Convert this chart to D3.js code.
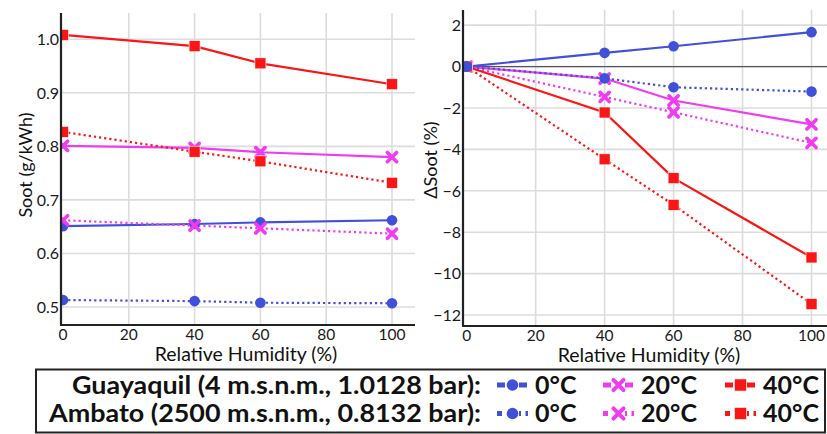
<!DOCTYPE html>
<html><head><meta charset="utf-8">
<script src="https://cdn.jsdelivr.net/npm/d3@7"></script>
<style>
body{margin:0;background:#fff;}
text{font-family:Lato,"Open Sans",sans-serif;}
</style></head>
<body><svg id="c" width="827" height="434"></svg>
<script>
// ---- data ----
const humidity = [0, 40, 60, 100];
const xTicks = [0, 20, 40, 60, 80, 100];
const sootTicks = [0.5, 0.6, 0.7, 0.8, 0.9, 1.0];
const deltaTicks = [2, 0, -2, -4, -6, -8, -10, -12];

const sootGuayaquil0 = [0.651, 0.655, 0.658, 0.662];
const sootGuayaquil20 = [0.801, 0.797, 0.789, 0.780];
const sootGuayaquil40 = [1.008, 0.987, 0.955, 0.916];
const sootAmbato0 = [0.513, 0.511, 0.508, 0.507];
const sootAmbato20 = [0.662, 0.652, 0.647, 0.637];
const sootAmbato40 = [0.827, 0.790, 0.772, 0.732];

const deltaGuayaquil0 = [0, 0.66, 0.98, 1.66];
const deltaGuayaquil20 = [0, -0.58, -1.64, -2.79];
const deltaGuayaquil40 = [0, -2.22, -5.39, -9.22];
const deltaAmbato0 = [0, -0.57, -1.00, -1.21];
const deltaAmbato20 = [0, -1.47, -2.21, -3.69];
const deltaAmbato40 = [0, -4.48, -6.68, -11.47];

const temps = ["0°C", "20°C", "40°C"];
const colors = ["#4050d8", "#f03cf0", "#fa1616"];
const shapes = ["circle", "cross", "square"];

const svg = d3.select("#c");

function marker(g, shape, color, x, y, k) {
  k = k || 1;
  if (shape === "circle") {
    g.append("circle").attr("cx", x).attr("cy", y).attr("r", 5.3 * k).attr("fill", color);
  } else if (shape === "square") {
    const h = 5.5 * k;
    g.append("rect").attr("x", x - h).attr("y", y - h).attr("width", 2 * h).attr("height", 2 * h)
      .attr("fill", color).attr("stroke", "#fff").attr("stroke-width", 0.6);
  } else {
    const s = 4.6 * k;
    g.append("path").attr("d", `M${x - s},${y - s}L${x + s},${y + s}M${x - s},${y + s}L${x + s},${y - s}`)
      .attr("stroke", color).attr("stroke-width", 3.6 * k).attr("stroke-linecap", "round").attr("fill", "none");
  }
}

function panel(opts) {
  const {x, y, left, right, top, bottom, ticks, fmt, series, id, title, zeroLine, titleX} = opts;
  const g = svg.append("g");
  g.selectAll(".vg").data(xTicks.filter(d => d > 0)).enter().append("line")
    .attr("x1", d => x(d)).attr("x2", d => x(d)).attr("y1", top).attr("y2", bottom)
    .attr("stroke", "#dcdcdc").attr("stroke-width", 1.6);
  g.selectAll(".hg").data(ticks).enter().append("line")
    .attr("x1", left).attr("x2", right).attr("y1", d => y(d)).attr("y2", d => y(d))
    .attr("stroke", "#dcdcdc").attr("stroke-width", 1.6);
  if (zeroLine) {
    g.append("line").attr("x1", left).attr("x2", right).attr("y1", y(0)).attr("y2", y(0))
      .attr("stroke", "#555").attr("stroke-width", 1.3);
  }
  svg.append("clipPath").attr("id", id).append("rect")
    .attr("x", left).attr("y", top - 10).attr("width", right - left).attr("height", bottom - top + 10);
  const m = g.append("g").attr("clip-path", `url(#${id})`);
  const line = d3.line().x((d, i) => x(humidity[i])).y(d => y(d));
  series.forEach(s => {
    m.append("path").datum(s.values).attr("d", line).attr("fill", "none")
      .attr("stroke", colors[s.t]).attr("stroke-width", 2.2)
      .attr("stroke-dasharray", s.dotted ? "2.2,3" : null);
  });
  series.forEach(s => {
    s.values.forEach((v, i) => marker(m, shapes[s.t], colors[s.t], x(humidity[i]), y(v)));
  });
  g.append("line").attr("x1", left).attr("x2", left).attr("y1", top).attr("y2", bottom)
    .attr("stroke", "#222").attr("stroke-width", 2.2);
  g.append("line").attr("x1", left - 1).attr("x2", right).attr("y1", bottom).attr("y2", bottom)
    .attr("stroke", "#222").attr("stroke-width", 2.2);
  g.selectAll(".yl").data(ticks).enter().append("text")
    .attr("x", left - 2).attr("y", d => y(d)).attr("dy", "0.36em").attr("text-anchor", "end")
    .attr("font-size", 16).attr("fill", "#1a1a1a").text(fmt);
  g.selectAll(".xl").data(xTicks).enter().append("text")
    .attr("x", d => x(d)).attr("y", bottom + 15).attr("text-anchor", "middle")
    .attr("font-size", 15.5).attr("fill", "#1a1a1a").text(d => d);
  g.append("text").attr("x", titleX).attr("y", bottom + 36).attr("text-anchor", "middle")
    .attr("font-size", 19.5).attr("fill", "#111").text("Relative Humidity (%)");
  g.append("text").attr("transform", `translate(${opts.yTitleX},${opts.yTitleY}) rotate(-90)`)
    .attr("text-anchor", "middle").attr("font-size", 18).attr("fill", "#111").text(title);
}

const x1 = d3.scaleLinear().domain([0, 100]).range([63, 392]);
const y1 = d3.scaleLinear().domain([0.4664, 1.049]).range([325, 13]);
panel({
  x: x1, y: y1, left: 61, right: 415, top: 13, bottom: 325, ticks: sootTicks,
  fmt: d => d.toFixed(1), id: "cl1", title: "Soot (g/kWh)", titleX: 246,
  yTitleX: 32, yTitleY: 165,
  series: [
    {values: sootAmbato0, t: 0, dotted: true},
    {values: sootGuayaquil0, t: 0},
    {values: sootAmbato20, t: 1, dotted: true},
    {values: sootGuayaquil20, t: 1},
    {values: sootAmbato40, t: 2, dotted: true},
    {values: sootGuayaquil40, t: 2}
  ]
});

const x2 = d3.scaleLinear().domain([0, 100]).range([466.7, 811.5]);
const y2 = d3.scaleLinear().domain([-12.53, 2.73]).range([326, 10]);
panel({
  x: x2, y: y2, left: 463, right: 827, top: 10, bottom: 326, ticks: deltaTicks,
  fmt: d3.format("d"), id: "cl2", title: "ΔSoot (%)", titleX: 649, zeroLine: true,
  yTitleX: 437, yTitleY: 160,
  series: [
    {values: deltaAmbato20, t: 1, dotted: true},
    {values: deltaAmbato40, t: 2, dotted: true},
    {values: deltaGuayaquil20, t: 1},
    {values: deltaGuayaquil40, t: 2},
    {values: deltaGuayaquil0, t: 0},
    {values: deltaAmbato0, t: 0, dotted: true}
  ]
});

// ---- legend ----
const leg = svg.append("g");
leg.append("rect").attr("x", 36).attr("y", 369.5).attr("width", 789).attr("height", 63)
  .attr("fill", "#fff").attr("stroke", "#222").attr("stroke-width", 2);
const rows = [
  {label: "Guayaquil (4 m.s.n.m., 1.0128 bar):", dotted: false, y: 393.5, start: 72},
  {label: "Ambato (2500 m.s.n.m., 0.8132 bar):", dotted: true, y: 422, start: 49}
];
const legX = [497, 603, 725];
rows.forEach(r => {
  leg.append("text").attr("x", r.start).attr("y", r.y)
    .attr("textLength", 481 - r.start).attr("lengthAdjust", "spacingAndGlyphs")
    .attr("font-size", 25).attr("font-weight", "bold").attr("fill", "#111").text(r.label);
  temps.forEach((t, i) => {
    const cy = r.y - 8.5;
    leg.append("line").attr("x1", legX[i]).attr("x2", legX[i] + 31).attr("y1", cy).attr("y2", cy)
      .attr("stroke", colors[i]).attr("stroke-width", 5)
      .attr("stroke-dasharray", r.dotted ? "5,4.5" : "8,3");
    leg.append("rect").attr("x", legX[i] + 9).attr("y", cy - 7).attr("width", 13).attr("height", 14).attr("fill", "#fff");
    marker(leg, shapes[i], colors[i], legX[i] + 15.5, cy, 1.1);
    leg.append("text").attr("x", legX[i] + 38).attr("y", r.y).attr("font-size", 25)
      .attr("font-weight", "bold").attr("fill", "#111").text(t);
  });
});
</script></body></html>
